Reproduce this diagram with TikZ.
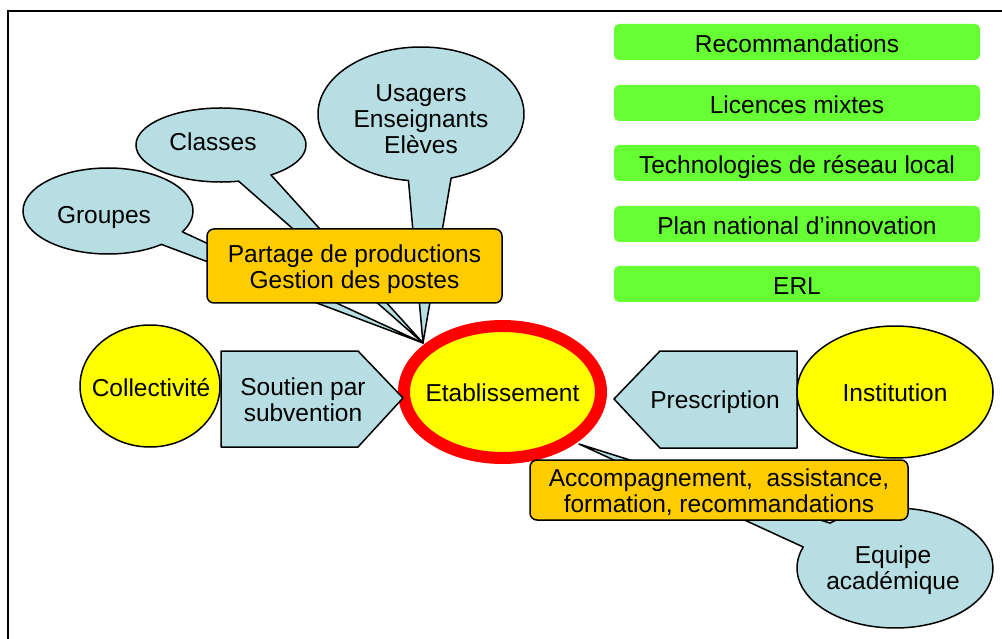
\documentclass[tikz,border=0pt]{standalone}
\usepackage{fontspec}
\setmainfont{Liberation Sans}
\usetikzlibrary{shapes.geometric}
\definecolor{lblue}{RGB}{183,222,227}
\definecolor{orangeb}{RGB}{255,204,0}
\definecolor{greenb}{RGB}{102,255,51}
\definecolor{yellowb}{RGB}{255,255,0}
\definecolor{redb}{RGB}{255,0,0}
\begin{document}
\begin{tikzpicture}[x=1pt,y=-1pt,
  txt/.style={font=\fontsize{24.5}{26}\selectfont, align=center, inner sep=0pt, text=black},
  txtone/.style={txt, text height=17.6pt, text depth=0pt},
  shp/.style={draw=black, line width=1.5pt, line join=round},
  callout/.style={shp, fill=lblue},
  greenbox/.style={txt, fill=greenb, rounded corners=5pt, minimum width=366pt, minimum height=36pt, text height=20.6pt, text depth=0pt},
  orangebox/.style={txt, shp, fill=orangeb, rounded corners=7pt},
  yellowell/.style={shp, ellipse, fill=yellowb, inner sep=0pt}
]
\useasboundingbox (0,0) rectangle (1002,639);
\fill[white] (0,0) rectangle (1002,639);
% frame
\coordinate (fbl) at (8,639);
\coordinate (ftl) at (8,11);
\coordinate (ftr) at (1002,11);
\draw[line width=2.5pt] (fbl) -- (ftl) -- (ftr);

% central node
\node[ellipse, draw=redb, line width=12pt, fill=yellowb, inner sep=0pt,
      minimum width=197pt, minimum height=132pt] (etab) at (502.5,392) {};
\node[txtone] (etabt) at (502.5,393) {Etablissement};

% top callouts
\coordinate (tipA) at (423,343);
\coordinate (cG) at (108,211);
\coordinate (cC) at (221,145);
\coordinate (cU) at (421,114);
\path[callout] (cG) ++(51:85 and 43) arc[start angle=51, end angle=389, x radius=85, y radius=43] -- (tipA) -- cycle;
\path[callout] (cC) ++(78:85 and 37) arc[start angle=78, end angle=414, x radius=85, y radius=37] -- (tipA) -- cycle;
\path[callout] (cU) ++(97:103 and 67) arc[start angle=97, end angle=433, x radius=103, y radius=67] -- (tipA) -- cycle;
\node[txtone] (groupes) at (104,214.5) {Groupes};
\node[txtone] (classes) at (213,141.5) {Classes};
\node[txt] (usagers) at (421,119) {Usagers\\Enseignants\\El\`eves};

\node[orangebox, minimum width=295pt, minimum height=74pt] (partage) at (354.5,266) {};
\node[txt] (partaget) at (354.5,269) {Partage de productions\\Gestion des postes};

% left side
\node[yellowell, minimum width=140pt, minimum height=122pt] (coll) at (150,386) {};
\node[txtone] (collt) at (151,388) {Collectivit\'e};
\coordinate (s1) at (221,351);
\coordinate (s2) at (358,351);
\coordinate (s3) at (403,398);
\coordinate (s4) at (358,447);
\coordinate (s5) at (221,447);
\draw[shp, fill=lblue] (s1) -- (s2) -- (s3) -- (s4) -- (s5) -- cycle;
\node[txt] (soutien) at (303,400) {Soutien par\\subvention};

% right side
\coordinate (p1) at (797,351);
\coordinate (p2) at (660,351);
\coordinate (p3) at (614,399);
\coordinate (p4) at (660,448);
\coordinate (p5) at (797,448);
\draw[shp, fill=lblue] (p1) -- (p2) -- (p3) -- (p4) -- (p5) -- cycle;
\node[txtone] (prescr) at (715,400) {Prescription};
\node[yellowell, minimum width=196pt, minimum height=132pt] (inst) at (895,392) {};
\node[txtone] (instt) at (895,393) {Institution};

% bottom right callout
\coordinate (tipB) at (579,444);
\coordinate (cE) at (895,568);
\path[callout] (cE) ++(228.5:98 and 60) arc[start angle=228.5, end angle=560.5, x radius=98, y radius=60] -- (tipB) -- cycle;
\node[txt] (equipe) at (893,570) {Equipe\\acad\'emique};

\node[orangebox, minimum width=378pt, minimum height=60pt] (accomp) at (719,490) {};
\node[txt] (accompt) at (719,492) {Accompagnement,\ \ assistance,\\formation, recommandations};

% green boxes
\node[greenbox] (g1) at (797,42) {Recommandations};
\node[greenbox] (g2) at (797,103) {Licences mixtes};
\node[greenbox] (g3) at (797,163) {Technologies de r\'eseau local};
\node[greenbox] (g4) at (797,224) {Plan national d'innovation};
\node[greenbox] (g5) at (797,284) {ERL};
\end{tikzpicture}
\end{document}
